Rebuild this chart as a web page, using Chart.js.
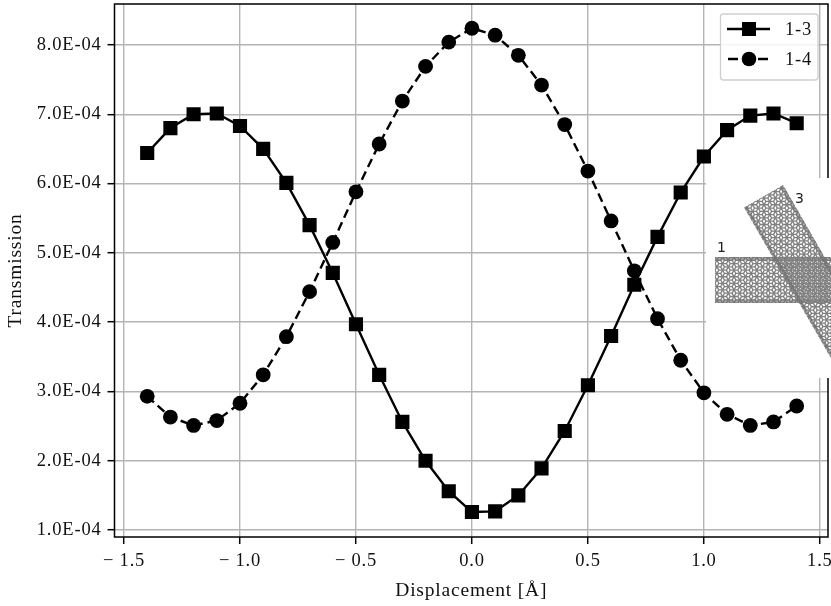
<!DOCTYPE html>
<html>
<head>
<meta charset="utf-8">
<style>
html, body { margin: 0; padding: 0; background: #fff; }
#wrap { width: 831px; height: 606px; position: relative; }
</style>
<script src="https://cdn.jsdelivr.net/npm/chart.js@4"></script>
</head>
<body>
<div id="wrap"><canvas id="chart-1"></canvas></div>
<script>
const displacement = [-1.4, -1.3, -1.2, -1.1, -1.0, -0.9, -0.8, -0.7, -0.6, -0.5, -0.4, -0.3, -0.2, -0.1, 0.0,
    0.1, 0.2, 0.3, 0.4, 0.5, 0.6, 0.7, 0.8, 0.9, 1.0, 1.1, 1.2, 1.3, 1.4];
const trans13 = [6.44e-4, 6.80e-4, 7.00e-4, 7.01e-4, 6.83e-4, 6.50e-4, 6.01e-4, 5.40e-4, 4.71e-4, 3.97e-4, 3.24e-4, 2.56e-4, 2.00e-4, 1.56e-4, 1.26e-4,
    1.27e-4, 1.50e-4, 1.89e-4, 2.43e-4, 3.09e-4, 3.80e-4, 4.54e-4, 5.23e-4, 5.87e-4, 6.39e-4, 6.77e-4, 6.98e-4, 7.01e-4, 6.87e-4];
const trans14 = [2.93e-4, 2.63e-4, 2.51e-4, 2.58e-4, 2.83e-4, 3.24e-4, 3.79e-4, 4.44e-4, 5.15e-4, 5.88e-4, 6.57e-4, 7.19e-4, 7.69e-4, 8.04e-4, 8.24e-4,
    8.14e-4, 7.85e-4, 7.42e-4, 6.85e-4, 6.18e-4, 5.46e-4, 4.74e-4, 4.05e-4, 3.45e-4, 2.98e-4, 2.67e-4, 2.51e-4, 2.56e-4, 2.79e-4];
const seriesNames = ["1-3", "1-4"];
const xTicks = [-1.5, -1.0, -0.5, 0.0, 0.5, 1.0, 1.5];
const yTicks = [1e-4, 2e-4, 3e-4, 4e-4, 5e-4, 6e-4, 7e-4, 8e-4];
const yTickLabels = ["1.0E-04", "2.0E-04", "3.0E-04", "4.0E-04", "5.0E-04", "6.0E-04", "7.0E-04", "8.0E-04"];

const serif = '"Liberation Serif", serif';
const fontSize = 18.5;
const titleSize = 19.5;

// lattice of a tube seen from the side, two shifted honeycomb layers
function drawTube(ctx, length, width) {
    const a = 3.8;
    const h = a * Math.sqrt(3);
    ctx.save();
    ctx.beginPath();
    ctx.rect(0, 0, length, width);
    ctx.clip();
    ctx.strokeStyle = "#808080";
    ctx.lineWidth = 1.3;
    [0, a].forEach(function(shift) {
        ctx.beginPath();
        for (let row = -1; row * h / 2 < width + h; row++) {
            for (let col = -1; col * 3 * a < length + 3 * a; col++) {
                const cx = col * 3 * a + (row % 2 ? 1.5 * a : 0) + shift;
                const cy = row * h / 2;
                for (let k = 0; k < 6; k++) {
                    const px = cx + a * Math.cos(k * Math.PI / 3);
                    const py = cy + a * Math.sin(k * Math.PI / 3);
                    if (k == 0) ctx.moveTo(px, py); else ctx.lineTo(px, py);
                }
                ctx.closePath();
            }
        }
        ctx.stroke();
    });
    // denser rims of the tube
    ctx.fillStyle = "rgba(110,110,110,0.6)";
    ctx.fillRect(0, 0, length, 3.5);
    ctx.fillRect(0, width - 3.5, length, 3.5);
    ctx.restore();
}

const framePlugin = {
    id: "frame",
    beforeDraw: function(chart) {
        // the reference face runs wider than Liberation Serif
        chart.ctx.letterSpacing = "0.8px";
    },
    afterDatasetsDraw: function(chart) {
        const ctx = chart.ctx;
        const area = chart.chartArea;

        ctx.save();
        ctx.strokeStyle = "#000";
        ctx.lineWidth = 1.5;
        ctx.strokeRect(area.left, area.top, area.right - area.left, area.bottom - area.top);

        // inset with the crossed tubes
        ctx.fillStyle = "#fff";
        ctx.fillRect(706, 178, 125, 200);
        ctx.beginPath();
        ctx.rect(706, 178, 125, 200);
        ctx.clip();
        ctx.save();
        ctx.translate(715, 257);
        drawTube(ctx, 120, 46);
        ctx.restore();
        ctx.save();
        ctx.translate(783, 185);
        ctx.rotate(Math.PI / 3);
        drawTube(ctx, 230, 45);
        ctx.restore();
        ctx.letterSpacing = "0px";
        ctx.fillStyle = "#222";
        ctx.font = '14px "DejaVu Sans"';
        ctx.textAlign = "left";
        ctx.textBaseline = "alphabetic";
        ctx.fillText("1", 717, 252);
        ctx.fillText("3", 795, 203);
        ctx.restore();

        // legend
        ctx.save();
        ctx.globalAlpha = 0.85;
        ctx.fillStyle = "#fff";
        ctx.beginPath();
        ctx.roundRect(720.5, 14, 97.5, 66, 3);
        ctx.fill();
        ctx.globalAlpha = 1;
        ctx.strokeStyle = "#cfcfcf";
        ctx.lineWidth = 1.3;
        ctx.stroke();

        ctx.strokeStyle = "#000";
        ctx.fillStyle = "#000";
        ctx.lineWidth = 2.4;
        ctx.beginPath();
        ctx.moveTo(727, 29);
        ctx.lineTo(770, 29);
        ctx.stroke();
        ctx.fillRect(742, 22, 14, 14);
        ctx.setLineDash([10, 5]);
        ctx.beginPath();
        ctx.moveTo(728, 59);
        ctx.lineTo(770, 59);
        ctx.stroke();
        ctx.setLineDash([]);
        ctx.beginPath();
        ctx.arc(749, 59, 7.3, 0, 2 * Math.PI);
        ctx.fill();

        ctx.fillStyle = "#111";
        ctx.font = fontSize + "px " + serif;
        ctx.textAlign = "left";
        ctx.textBaseline = "middle";
        ctx.fillText(seriesNames[0], 785, 30);
        ctx.fillText(seriesNames[1], 785, 60);
        ctx.restore();
    }
};

const dataChart = {
    labels: displacement,
    datasets: [{
        label: seriesNames[0],
        data: displacement.map(function(x, i) { return { x: x, y: trans13[i] }; }),
        borderColor: "#000",
        backgroundColor: "#000",
        borderWidth: 2.4,
        pointStyle: "rect",
        pointRadius: 10,
        pointHoverRadius: 10,
        pointBorderWidth: 0,
        tension: 0
    }, {
        label: seriesNames[1],
        data: displacement.map(function(x, i) { return { x: x, y: trans14[i] }; }),
        borderColor: "#000",
        backgroundColor: "#000",
        borderWidth: 2.4,
        borderDash: [9, 5],
        pointStyle: "circle",
        pointRadius: 7.4,
        pointHoverRadius: 7.4,
        pointBorderWidth: 0,
        tension: 0
    }]
};

const configChart = {
    type: "line",
    data: dataChart,
    plugins: [framePlugin],
    options: {
        responsive: false,
        animation: false,
        layout: { autoPadding: false, padding: { top: 4, right: 3, left: 0, bottom: 0 } },
        plugins: {
            legend: { display: false },
            tooltip: { enabled: false }
        },
        scales: {
            x: {
                type: "linear",
                min: -1.541,
                max: 1.535,
                afterBuildTicks: function(scale) {
                    scale.ticks = xTicks.map(function(v) { return { value: v }; });
                },
                afterFit: function(scale) {
                    scale.height = 69;
                    scale.paddingLeft = 0;
                    scale.paddingRight = 0;
                },
                ticks: {
                    autoSkip: false,
                    maxRotation: 0,
                    color: "#111",
                    padding: 6,
                    font: { family: serif, size: fontSize },
                    callback: function(value) {
                        return value < 0 ? "\u2212 " + Math.abs(value).toFixed(1) : value.toFixed(1);
                    }
                },
                grid: { color: "#b4b4b4", lineWidth: 1.4, tickColor: "#000", tickWidth: 1.5, tickLength: 7 },
                border: { display: false },
                title: {
                    display: true,
                    text: "Displacement [Å]",
                    color: "#111",
                    padding: { top: 2, bottom: 3 },
                    font: { family: serif, size: titleSize }
                }
            },
            y: {
                type: "linear",
                min: 0.9e-4,
                max: 8.59e-4,
                afterBuildTicks: function(scale) {
                    scale.ticks = yTicks.map(function(v) { return { value: v }; });
                },
                afterFit: function(scale) {
                    scale.width = 114.5;
                    scale.paddingTop = 0;
                    scale.paddingBottom = 0;
                },
                ticks: {
                    autoSkip: false,
                    color: "#111",
                    padding: 6,
                    font: { family: serif, size: fontSize },
                    callback: function(value) {
                        return yTickLabels[yTicks.indexOf(value)];
                    }
                },
                grid: { color: "#b4b4b4", lineWidth: 1.4, tickColor: "#000", tickWidth: 1.5, tickLength: 7 },
                border: { display: false },
                title: {
                    display: true,
                    text: "Transmission",
                    color: "#111",
                    padding: { top: 4, bottom: 0 },
                    font: { family: serif, size: titleSize }
                }
            }
        }
    }
};

const canvas = document.getElementById("chart-1");
canvas.width = 831;
canvas.height = 606;
const chart = new Chart(canvas, configChart);
</script>
</body>
</html>
